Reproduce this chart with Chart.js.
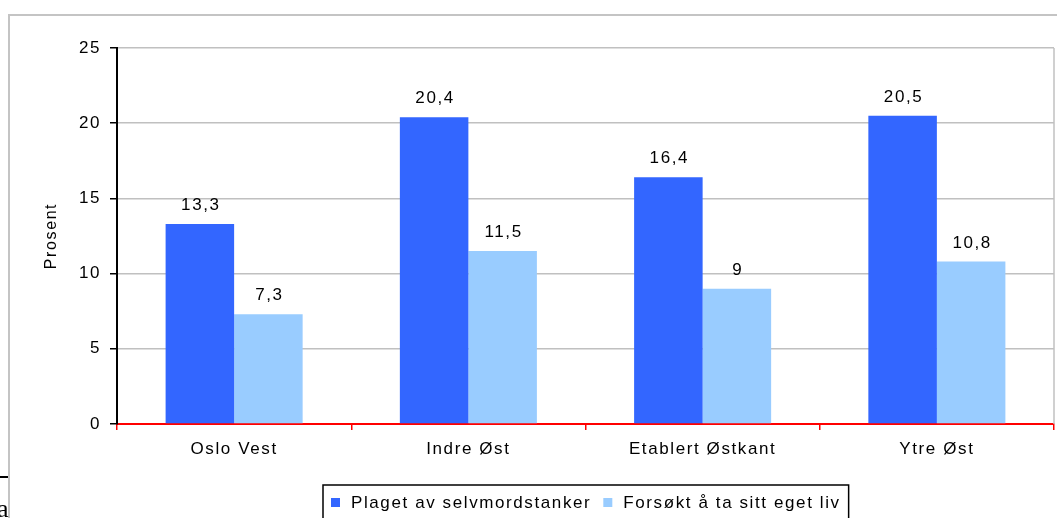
<!DOCTYPE html>
<html lang="no">
<head>
<meta charset="UTF-8">
<title>Selvmordstanker og selvmordsforsøk</title>
<script src="https://cdn.jsdelivr.net/npm/chart.js"></script>
<style>
  body { margin: 0; background: #fff; }
  #chart { display: block; }
</style>
</head>
<body>
<canvas id="chart" width="1057" height="518"></canvas>
<script>
const regions = ['Oslo Vest', 'Indre Øst', 'Etablert Østkant', 'Ytre Øst'];
const plaget = [13.3, 20.4, 16.4, 20.5];
const forsokt = [7.3, 11.5, 9, 10.8];
const seriesNames = ['Plaget av selvmordstanker', 'Forsøkt å ta sitt eget liv'];
const yTicks = [0, 5, 10, 15, 20, 25];

const FONT = '"Liberation Sans", Arial, sans-serif';
const SPACING = '1.6px';

// wide letter spacing for all canvas text
const spacing = {
  id: 'spacing',
  beforeUpdate(chart) { chart.ctx.letterSpacing = SPACING; },
  beforeDraw(chart) { chart.ctx.letterSpacing = SPACING; }
};

// outer frame and the bits of page sticking in on the left
const frame = {
  id: 'frame',
  beforeDraw(chart) {
    const ctx = chart.ctx;
    ctx.save();
    ctx.strokeStyle = '#c4c4c4';
    ctx.lineWidth = 2;
    ctx.beginPath();
    ctx.moveTo(9, 518);
    ctx.lineTo(9, 15);
    ctx.lineTo(1057, 15);
    ctx.stroke();
    ctx.strokeStyle = '#000';
    ctx.beginPath();
    ctx.moveTo(0, 477);
    ctx.lineTo(8, 477);
    ctx.stroke();
    ctx.letterSpacing = '0px';
    ctx.fillStyle = '#000';
    ctx.font = '26px "Liberation Serif", serif';
    ctx.textBaseline = 'alphabetic';
    ctx.fillText('a', -3, 517);
    ctx.restore();
  },
  beforeDatasetsDraw(chart) {
    const {ctx, chartArea: a} = chart;
    ctx.save();
    ctx.strokeStyle = '#c0c0c0';
    ctx.lineWidth = 1.5;
    ctx.beginPath();
    ctx.moveTo(a.right, a.top);
    ctx.lineTo(a.right, a.bottom);
    ctx.stroke();
    ctx.restore();
  }
};

const valueLabels = {
  id: 'valueLabels',
  afterDatasetsDraw(chart) {
    const ctx = chart.ctx;
    ctx.save();
    ctx.font = '17px ' + FONT;
    ctx.fillStyle = '#000';
    ctx.textAlign = 'center';
    ctx.textBaseline = 'alphabetic';
    chart.data.datasets.forEach((ds, i) => {
      chart.getDatasetMeta(i).data.forEach((bar, j) => {
        const txt = String(ds.data[j]).replace('.', ',');
        ctx.fillText(txt, bar.x + 1, bar.y - 14);
      });
    });
    ctx.restore();
  }
};

// legend in a black box under the axis
const boxLegend = {
  id: 'boxLegend',
  afterDraw(chart) {
    const {ctx, chartArea: a} = chart;
    ctx.save();
    ctx.font = '17px ' + FONT;
    const pad = 8, sq = 9, gap = 11, between = 12;
    const items = chart.data.datasets.map(ds => ({
      label: ds.label, color: ds.backgroundColor, w: ctx.measureText(ds.label).width
    }));
    let total = pad * 2;
    items.forEach((it, k) => { total += sq + gap + it.w + (k ? between : 0); });
    const left = Math.round((a.left + a.right) / 2 - total / 2);
    const top = 485;
    ctx.strokeStyle = '#000';
    ctx.lineWidth = 1.5;
    ctx.strokeRect(left, top, total, 60);
    let x = left + pad;
    ctx.textBaseline = 'alphabetic';
    items.forEach((it, k) => {
      if (k) x += between;
      ctx.fillStyle = it.color;
      ctx.fillRect(x, 498, sq, sq);
      x += sq + gap;
      ctx.fillStyle = '#000';
      ctx.fillText(it.label, x, 508);
      x += it.w;
    });
    ctx.restore();
  }
};

new Chart(document.getElementById('chart'), {
  type: 'bar',
  data: {
    labels: regions,
    datasets: [
      { label: seriesNames[0], data: plaget, backgroundColor: '#3366FF' },
      { label: seriesNames[1], data: forsokt, backgroundColor: '#99CCFF' }
    ]
  },
  options: {
    responsive: false,
    animation: false,
    devicePixelRatio: 1,
    categoryPercentage: 0.585,
    barPercentage: 1,
    layout: { padding: { top: 48, right: 3, left: 0, bottom: 0 } },
    plugins: {
      legend: { display: false },
      tooltip: { enabled: false }
    },
    scales: {
      x: {
        afterFit: s => { s.height = 94; },
        grid: {
          offset: true,
          drawOnChartArea: false,
          drawTicks: true,
          tickLength: 6,
          color: '#ff0000',
          lineWidth: 1.5
        },
        border: { color: '#ff0000', width: 2 },
        ticks: {
          color: '#000',
          padding: 9,
          maxRotation: 0,
          font: { family: FONT, size: 17 }
        }
      },
      y: {
        min: 0,
        max: 25,
        afterFit: s => { s.width = 117; },
        afterBuildTicks: s => { s.ticks = yTicks.map(v => ({ value: v })); },
        grid: {
          color: c => c.tick && c.tick.value === 0 ? 'rgba(0,0,0,0)' : '#c0c0c0',
          lineWidth: 1.5,
          tickColor: '#000',
          tickLength: 7
        },
        border: { color: '#000', width: 2 },
        ticks: {
          color: '#000',
          padding: 9,
          font: { family: FONT, size: 17 }
        },
        title: {
          display: true,
          text: 'Prosent',
          color: '#000',
          padding: { top: 42, bottom: 0 },
          font: { family: FONT, size: 16 }
        }
      }
    }
  },
  plugins: [spacing, frame, valueLabels, boxLegend]
});
</script>
</body>
</html>
